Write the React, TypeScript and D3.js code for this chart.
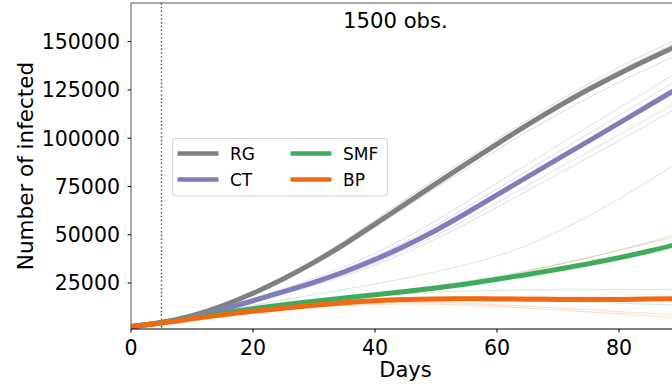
import React from "react";
import * as d3 from "d3";

// Simulation days (sampled every 5 days)
const days = [0, 5, 10, 15, 20, 25, 30, 35, 40, 45, 50, 55, 60, 65, 70, 75, 80, 85, 90];

// Mean trajectories per strategy
const rgMean = [2500, 4300, 7800, 13000, 19500, 27000, 35500, 45000, 55500, 66000, 76500, 86800, 97000, 107000, 116500, 125300, 133500, 141200, 148500];
const ctMean = [2500, 4200, 7300, 11300, 15800, 20500, 25300, 30700, 37000, 44200, 52200, 61200, 70600, 80000, 89300, 98500, 107800, 117200, 126500];
const smfMean = [2500, 4300, 7000, 9500, 11800, 13800, 15600, 17300, 18900, 20600, 22400, 24500, 26900, 29400, 32100, 35000, 38000, 41500, 45500];
const bpMean = [2500, 4200, 6500, 8600, 10400, 12000, 13500, 14900, 15900, 16500, 16800, 16900, 16800, 16650, 16500, 16400, 16450, 16700, 17000];

// Individual runs per strategy
const rgRuns = [
  [2500, 4300, 8000, 13500, 20300, 28000, 37000, 46800, 57500, 68500, 79000, 89300, 99500, 109500, 119200, 128300, 136800, 144500, 152000],
  [2500, 4300, 7900, 13300, 19900, 27500, 36200, 46000, 56500, 67200, 77800, 88000, 98200, 108300, 118000, 127000, 135300, 143000, 150500],
  [2500, 4200, 7600, 12700, 19000, 26300, 34500, 43800, 54000, 64300, 74300, 84200, 94000, 103500, 112500, 121000, 129000, 136500, 143500],
];
const ctRuns = [
  [2500, 4300, 7600, 11900, 16800, 22000, 27300, 33300, 40300, 48300, 57200, 66900, 76800, 86600, 96300, 106000, 115600, 125200, 135000],
  [2500, 4100, 7100, 11000, 15300, 19800, 24300, 29300, 35300, 42000, 49500, 57800, 66600, 75500, 84300, 93000, 101800, 110600, 119500],
  [2500, 4100, 7000, 10800, 15000, 19400, 23700, 28500, 34200, 40600, 47800, 55800, 64200, 72800, 81400, 90000, 98700, 107500, 116500],
  [2500, 4200, 7400, 11600, 16300, 21300, 26300, 32000, 38700, 46300, 54700, 64000, 73700, 83300, 92800, 102300, 111800, 121400, 131000],
];
const smfRuns = [
  [2500, 4400, 7400, 10500, 13500, 16300, 19000, 21700, 24500, 27500, 30800, 34500, 38800, 44500, 51500, 59500, 68500, 78000, 88000],
  [2500, 4300, 7100, 9700, 12000, 14100, 16000, 17800, 19700, 21600, 23600, 25900, 28500, 31400, 34600, 38100, 41900, 46200, 51000],
  [2500, 4300, 6900, 9300, 11500, 13500, 15300, 16900, 18300, 19500, 20300, 20900, 21200, 21400, 21500, 21550, 21600, 21600, 21600],
  [2500, 4200, 6700, 8900, 10900, 12600, 14100, 15300, 16100, 16600, 16750, 16700, 16450, 16050, 15550, 15050, 14550, 14050, 13600],
];
const bpRuns = [
  [2500, 4200, 6700, 8900, 10900, 12700, 14400, 16100, 17900, 19900, 22100, 24700, 27700, 31000, 34500, 38200, 42000, 45800, 49500],
  [2500, 4200, 6600, 8800, 10700, 12400, 14000, 15500, 16600, 17300, 17700, 17950, 18000, 17900, 17800, 17700, 17600, 17550, 17500],
  [2500, 4100, 6300, 8300, 10000, 11500, 12800, 13900, 14600, 14950, 14900, 14500, 13850, 13000, 12100, 11150, 10200, 9300, 8500],
  [2500, 4000, 6200, 8100, 9800, 11200, 12400, 13400, 14000, 14250, 14100, 13650, 12950, 12050, 11050, 10050, 9050, 8050, 7000],
];

const seriesNames = ["RG", "CT", "SMF", "BP"];
const seriesColors = ["#808080", "#807dba", "#41ab5d", "#f16913"];
const seriesMeans = [rgMean, ctMean, smfMean, bpMean];
const seriesRuns = [rgRuns, ctRuns, smfRuns, bpRuns];

const xTicks = [0, 20, 40, 60, 80];
const yTicks = [25000, 50000, 75000, 100000, 125000, 150000];
const interventionDay = 5;
const titleText = "1500 obs.";

const W = 672;
const H = 387;
const plot = { left: 131, right: 680, top: 3, bottom: 329 };
const FONT = "DejaVu Sans, sans-serif";

export default function App() {
  const x = d3.scaleLinear().domain([0, 90]).range([plot.left, plot.right]);
  const y = d3.scaleLinear().domain([1200, 170000]).range([plot.bottom, plot.top]);

  const line = d3
    .line<number>()
    .x((_, i) => x(days[i]))
    .y((v) => y(v))
    .curve(d3.curveBasis);

  const legendX = 172.5;
  const legendY = 138.5;
  const rowH = 26;
  const colW = 113;

  return (
    <svg
      width={W}
      height={H}
      style={{ position: "absolute", left: 0, top: 0, background: "#fff" }}
      fontFamily={FONT}
    >
      <defs>
        <clipPath id="plotClip">
          <rect x={plot.left} y={plot.top} width={plot.right - plot.left} height={plot.bottom - plot.top} />
        </clipPath>
      </defs>

      {/* intervention marker */}
      <line
        x1={x(interventionDay)}
        x2={x(interventionDay)}
        y1={plot.top}
        y2={plot.bottom}
        stroke="#444"
        strokeWidth={1.4}
        strokeDasharray="1.4,2.4"
      />

      <g clipPath="url(#plotClip)">
        {/* individual runs */}
        {seriesRuns.map((runs, si) =>
          runs.map((r, ri) => (
            <path
              key={`run-${si}-${ri}`}
              d={line(r) ?? ""}
              fill="none"
              stroke={seriesColors[si]}
              strokeOpacity={0.22}
              strokeWidth={1.1}
            />
          ))
        )}
        {/* mean trajectories */}
        {seriesMeans.map((m, si) => (
          <path
            key={`mean-${si}`}
            d={line(m) ?? ""}
            fill="none"
            stroke={seriesColors[si]}
            strokeWidth={5}
          />
        ))}
      </g>

      {/* spines */}
      <line x1={plot.left} x2={plot.right} y1={plot.top} y2={plot.top} stroke="#555" strokeWidth={1} />
      <line x1={plot.left} x2={plot.left} y1={plot.top} y2={plot.bottom} stroke="#555" strokeWidth={1} />
      <line x1={plot.left} x2={plot.right} y1={plot.bottom} y2={plot.bottom} stroke="#000" strokeWidth={1} />

      {/* x axis */}
      {xTicks.map((t) => (
        <g key={`xt-${t}`}>
          <line x1={x(t)} x2={x(t)} y1={plot.bottom} y2={plot.bottom + 3.5} stroke="#000" strokeWidth={1} />
          <text x={x(t)} y={354.5} textAnchor="middle" fontSize={20.5} fill="#000">
            {t}
          </text>
        </g>
      ))}
      <text x={(plot.left + plot.right) / 2} y={376.5} textAnchor="middle" fontSize={21} fill="#000">
        Days
      </text>

      {/* y axis */}
      {yTicks.map((t) => (
        <g key={`yt-${t}`}>
          <line x1={plot.left - 3.5} x2={plot.left} y1={y(t)} y2={y(t)} stroke="#000" strokeWidth={1} />
          <text x={120} y={y(t)} dy="0.36em" textAnchor="end" fontSize={20.5} fill="#000">
            {t}
          </text>
        </g>
      ))}
      <text
        transform={`translate(33, ${(plot.top + plot.bottom) / 2}) rotate(-90)`}
        textAnchor="middle"
        fontSize={21.5}
        fill="#000"
      >
        Number of infected
      </text>

      {/* title annotation */}
      <text x={343} y={28.3} fontSize={21.2} fill="#000">
        {titleText}
      </text>

      {/* legend */}
      <rect
        x={legendX}
        y={legendY}
        width={215}
        height={57.5}
        rx={3}
        fill="#fff"
        fillOpacity={0.8}
        stroke="#d0d0d0"
        strokeWidth={1}
      />
      {seriesNames.map((name, i) => {
        const col = Math.floor(i / 2);
        const row = i % 2;
        const lx = legendX + 5 + col * colW;
        const ly = legendY + 15 + row * rowH;
        return (
          <g key={`lg-${name}`}>
            <line x1={lx} x2={lx + 41} y1={ly} y2={ly} stroke={seriesColors[i]} strokeWidth={4.5} />
            <text x={lx + 52.5} y={ly} dy="0.36em" fontSize={17} fill="#000">
              {name}
            </text>
          </g>
        );
      })}
    </svg>
  );
}
